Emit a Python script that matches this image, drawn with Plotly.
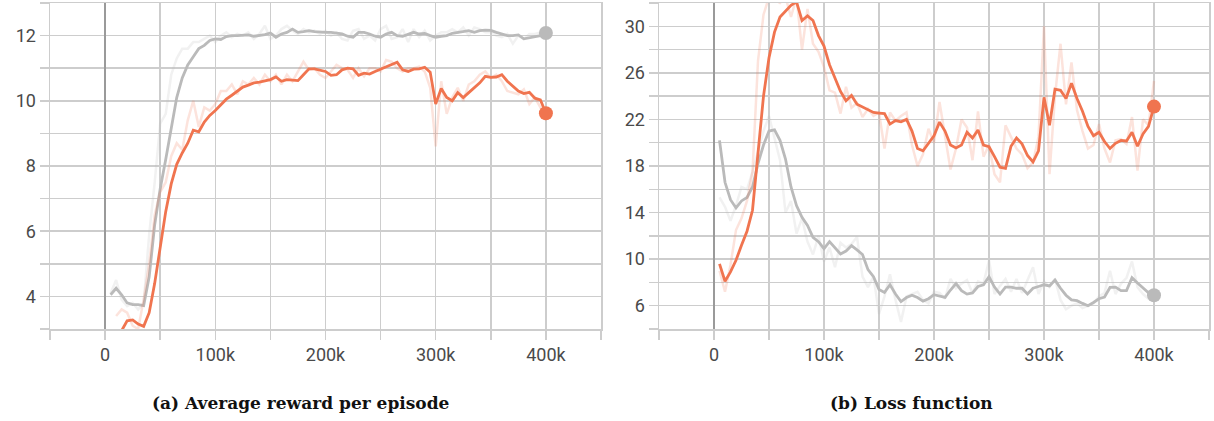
import plotly.graph_objects as go

# ---------------- data (steps in thousands) ----------------
steps = list(range(5, 405, 5))

# (a) Average reward per episode
reward_gray_smooth = [4.05, 4.25, 4.05, 3.8, 3.75, 3.75, 3.72, 4.6, 6.2, 7.3, 8.2, 9.1, 10.1, 10.7, 11.1, 11.35,
                      11.6, 11.7, 11.85, 11.9, 11.88, 11.97, 12.0, 12.0, 12.0, 12.02, 11.98, 12.0, 12.03, 12.08,
                      11.95, 12.05, 12.1, 12.2, 12.1, 12.12, 12.15, 12.12, 12.1, 12.1, 12.1, 12.08, 12.05, 11.98,
                      11.95, 12.1, 12.1, 12.05, 11.98, 11.95, 12.05, 12.1, 12.0, 11.98, 12.05, 12.1, 12.05, 12.07,
                      12.0, 11.95, 11.98, 12.0, 12.07, 12.1, 12.12, 12.15, 12.1, 12.15, 12.17, 12.16, 12.1, 12.05,
                      12.0, 12.0, 12.02, 11.9, 11.93, 11.97, 12.0, 12.08]
reward_gray_raw = [4.1, 4.5, 3.9, 3.7, 3.8, 3.6, 3.8, 5.9, 7.5, 9.3, 9.6, 10.8, 11.3, 11.6, 11.6, 11.8,
                   11.8, 11.9, 12.0, 11.8, 12.0, 12.1, 11.95, 12.05, 12.0, 12.1, 11.9, 12.05, 12.3, 11.9,
                   12.0, 12.2, 12.3, 12.15, 12.05, 12.2, 12.1, 12.15, 12.05, 12.15, 12.0, 12.1, 11.9, 11.85,
                   12.15, 12.2, 11.9, 12.0, 11.85, 12.2, 12.3, 11.9, 11.95, 12.2, 11.8, 12.2, 11.95, 12.15,
                   11.85, 12.0, 12.1, 12.1, 12.2, 12.1, 12.25, 12.0, 12.25, 12.2, 12.1, 12.1, 12.0, 11.95,
                   12.05, 11.75, 12.0, 11.9, 12.05, 12.05, 12.1, 12.2]
reward_orange_smooth = [None, None, 2.95, 3.25, 3.28, 3.15, 3.08, 3.5, 4.4, 5.5, 6.6, 7.45, 8.05, 8.4, 8.7, 9.1,
                        9.05, 9.35, 9.55, 9.7, 9.88, 10.05, 10.17, 10.3, 10.42, 10.48, 10.55, 10.57, 10.6, 10.65,
                        10.73, 10.6, 10.65, 10.63, 10.62, 10.8, 10.98, 10.98, 10.95, 10.9, 10.78, 10.8, 10.95, 11.0,
                        10.98, 10.78, 10.85, 10.82, 10.9, 10.97, 11.05, 11.12, 11.18, 10.95, 10.9, 10.97, 10.98, 11.03,
                        10.88, 9.9, 10.38, 10.1, 10.0, 10.25, 10.1, 10.25, 10.4, 10.55, 10.75, 10.72, 10.73, 10.8,
                        10.6, 10.45, 10.3, 10.22, 10.26, 10.08, 10.03, 9.62]
reward_orange_raw = [None, 3.4, 3.6, 3.5, 3.1, 3.0, 3.9, 5.0, 6.5, 7.2, 7.5, 8.3, 8.7, 8.5, 9.4, 10.0,
                     9.2, 9.8, 9.7, 9.9, 10.3, 10.3, 10.5, 10.2, 10.6, 10.5, 10.7, 10.5, 10.8, 10.6,
                     10.8, 10.5, 10.8, 10.6, 10.9, 11.2, 10.95, 11.0, 10.8, 10.7, 10.9, 11.1, 11.0, 10.95,
                     10.7, 11.0, 10.75, 11.0, 11.0, 10.9, 11.25, 11.2, 11.0, 10.9, 11.0, 11.0, 11.05, 10.9,
                     10.4, 8.6, 10.6, 9.6, 10.1, 10.4, 10.0, 10.5, 10.6, 10.8, 10.9, 10.7, 10.8, 10.6,
                     10.3, 10.25, 10.2, 10.35, 9.9, 10.1, 9.8, 9.4]

# (b) Loss function
loss_orange_smooth = [9.6, 8.1, 8.9, 9.9, 11.2, 12.4, 14.2, 18.8, 24.0, 27.3, 29.5, 30.8, 31.3, 31.8, 32.1, 30.5,
                      30.9, 30.5, 29.2, 28.3, 26.7, 25.6, 24.4, 23.6, 24.05, 23.3, 23.05, 22.8, 22.6, 22.55,
                      22.5, 21.6, 21.9, 21.8, 22.0, 21.0, 19.5, 19.3, 19.9, 20.6, 21.77, 21.0, 19.8, 19.55,
                      19.8, 20.9, 20.4, 21.1, 19.8, 19.65, 18.8, 17.9, 17.8, 19.7, 20.4, 19.9, 18.9, 18.35,
                      19.3, 23.9, 21.5, 24.6, 24.5, 23.8, 25.1, 23.8, 22.7, 21.4, 20.6, 20.9, 20.1, 19.5,
                      19.95, 20.2, 20.15, 20.9, 19.7, 20.75, 21.4, 23.1]
loss_orange_raw = [9.0, 7.2, 9.5, 12.5, 13.5, 15.0, 17.5, 27.0, 31.0, 32.5, 32.3, 32.0, 32.5, 30.8, 32.5, 28.0,
                   31.5, 28.5, 27.8, 26.5, 24.5, 24.3, 22.5, 24.8, 23.0, 23.4, 22.2, 22.9, 22.3, 22.6,
                   19.5, 22.6, 21.9, 22.3, 22.6, 19.8, 18.0, 19.0, 21.2, 20.0, 23.5, 20.5, 17.7, 19.5,
                   22.0, 21.3, 18.5, 22.7, 18.8, 19.8, 17.3, 16.6, 21.5, 20.5, 19.5, 19.0, 17.8, 18.3,
                   20.5, 30.0, 17.3, 24.0, 28.5, 23.3, 26.9, 22.8, 21.0, 19.5, 19.8, 21.6, 19.5, 18.3,
                   20.2, 20.3, 19.9, 22.2, 17.6, 22.0, 21.5, 25.3]
loss_gray_smooth = [20.2, 16.6, 15.1, 14.4, 15.0, 15.3, 16.2, 18.2, 19.8, 21.0, 21.1, 20.2, 18.6, 16.2, 14.6, 13.6,
                    12.9, 11.88, 11.5, 10.9, 11.5, 11.0, 10.44, 10.7, 11.16, 10.8, 10.4, 9.1, 8.5, 7.4,
                    7.14, 7.8, 7.0, 6.35, 6.7, 6.9, 6.7, 6.4, 6.6, 6.95, 6.86, 6.71, 7.35, 7.9,
                    7.29, 7.0, 7.1, 7.65, 7.8, 8.5, 7.6, 7.0, 7.6, 7.6, 7.5, 7.5, 7.0, 7.5,
                    7.65, 7.8, 7.7, 8.2, 7.5, 6.9, 6.5, 6.43, 6.2, 6.0, 6.28, 6.6, 6.75, 7.57,
                    7.6, 7.3, 7.3, 8.4, 7.95, 7.5, 7.1, 6.9]
loss_gray_raw = [15.3, 14.5, 13.3, 14.6, 16.2, 16.0, 17.5, 19.2, 21.0, 22.3, 20.5, 18.5, 14.0, 15.0, 12.2, 13.5,
                 11.5, 10.4, 12.0, 9.8, 11.0, 9.3, 11.4, 11.0, 11.3, 11.9, 8.5, 7.6, 8.5, 5.3,
                 6.8, 8.7, 6.5, 4.6, 6.8, 7.0, 7.2, 6.5, 6.2, 7.2, 7.1, 6.6, 8.3, 7.5,
                 7.9, 8.2, 7.1, 8.1, 7.9, 9.9, 7.0, 7.7, 8.3, 7.2, 8.3, 7.1, 8.2, 9.3,
                 7.0, 8.1, 7.6, 8.3, 6.5, 5.7, 6.0, 6.2, 5.8, 6.0, 6.2, 6.8, 7.1, 9.0,
                 7.0, 7.9, 8.4, 9.8, 7.6, 7.0, 6.6, 6.8]

x_tick_vals = [0, 100, 200, 300, 400]
x_tick_text = ["0", "100k", "200k", "300k", "400k"]
left_y_ticks = [4, 6, 8, 10, 12]
right_y_ticks = [6, 10, 14, 18, 22, 26, 30]
captions = ["<b>(a) Average reward per episode</b>", "<b>(b) Loss function</b>"]

# ---------------- styling ----------------
ORANGE = "#f0744f"
GRAY = "#bababa"
ORANGE_RAW = "rgba(240,116,79,0.2)"
GRAY_RAW = "rgba(186,186,186,0.2)"
GRID = "#cdcdcd"
FONT = dict(family="Roboto", size=18, color="#4a4a4a")
CAPFONT = dict(family="DejaVu Serif", size=17, color="#111111")

fig = go.Figure()

def add_series(x, y_raw, y_smooth, color, raw_color, xa, ya):
    fig.add_trace(go.Scatter(x=x, y=y_raw, mode="lines", line=dict(color=raw_color, width=2.5),
                             xaxis=xa, yaxis=ya, hoverinfo="skip", showlegend=False))
    fig.add_trace(go.Scatter(x=x, y=y_smooth, mode="lines", line=dict(color=color, width=2.8),
                             xaxis=xa, yaxis=ya, hoverinfo="skip", showlegend=False))
    fig.add_trace(go.Scatter(x=[x[-1]], y=[y_smooth[-1]], mode="markers",
                             marker=dict(color=color, size=14), xaxis=xa, yaxis=ya,
                             hoverinfo="skip", showlegend=False, cliponaxis=False))

add_series(steps, reward_gray_raw, reward_gray_smooth, GRAY, GRAY_RAW, "x", "y")
add_series(steps, reward_orange_raw, reward_orange_smooth, ORANGE, ORANGE_RAW, "x", "y")
add_series(steps, loss_gray_raw, loss_gray_smooth, GRAY, GRAY_RAW, "x2", "y2")
add_series(steps, loss_orange_raw, loss_orange_smooth, ORANGE, ORANGE_RAW, "x2", "y2")

H = 421
ydom = [1 - 329 / H, 1 - 3 / H]

def xaxis(domain, anchor):
    return dict(domain=domain, anchor=anchor, range=[-50, 450], automargin=False,
                tickvals=x_tick_vals, ticktext=x_tick_text, tickfont=FONT,
                showgrid=True, gridcolor=GRID, gridwidth=1.5,
                ticks="outside", ticklen=9, tickcolor=GRID, tickwidth=1.5,
                minor=dict(tick0=-50, dtick=50, showgrid=True, gridcolor=GRID, gridwidth=1.5,
                           ticks="outside", ticklen=9, tickcolor=GRID, tickwidth=1.5),
                zeroline=True, zerolinecolor="#9a9a9a", zerolinewidth=2,
                showline=True, linecolor=GRID, linewidth=1.5, mirror=True,
                fixedrange=True)

def yaxis(domain, anchor, rng, tickvals, dtick_minor):
    return dict(domain=domain, anchor=anchor, range=rng, tickvals=tickvals, tickfont=FONT,
                automargin=False,
                showgrid=True, gridcolor=GRID, gridwidth=1.5,
                ticks="outside", ticklen=9, tickcolor=GRID, tickwidth=1.5,
                minor=dict(dtick=dtick_minor, showgrid=True, gridcolor=GRID, gridwidth=1.5,
                           ticks="outside", ticklen=9, tickcolor=GRID, tickwidth=1.5),
                zeroline=False, showline=True, linecolor=GRID, linewidth=1.5, mirror=True,
                fixedrange=True)

fig.update_layout(
    width=1214, height=421,
    margin=dict(l=0, r=0, t=0, b=0, autoexpand=False),
    paper_bgcolor="white", plot_bgcolor="white",
    hovermode=False,
    xaxis=xaxis([50 / 1214, 601 / 1214], "y"),
    yaxis=yaxis(ydom, "x", [3, 13], left_y_ticks, 1),
    xaxis2=xaxis([659 / 1214, 1209 / 1214], "y2"),
    yaxis2=yaxis(ydom, "x2", [4, 32], right_y_ticks, 2),
    annotations=[
        dict(text=captions[0], x=301 / 1214, y=1 - 403 / H, xref="paper", yref="paper",
             showarrow=False, xanchor="center", yanchor="middle", font=CAPFONT),
        dict(text=captions[1], x=911 / 1214, y=1 - 403 / H, xref="paper", yref="paper",
             showarrow=False, xanchor="center", yanchor="middle", font=CAPFONT),
    ],
)

fig.write_html("out.html", config={"displayModeBar": False, "staticPlot": True},
               post_script="document.body.style.margin='0';document.body.style.overflow='hidden';")
